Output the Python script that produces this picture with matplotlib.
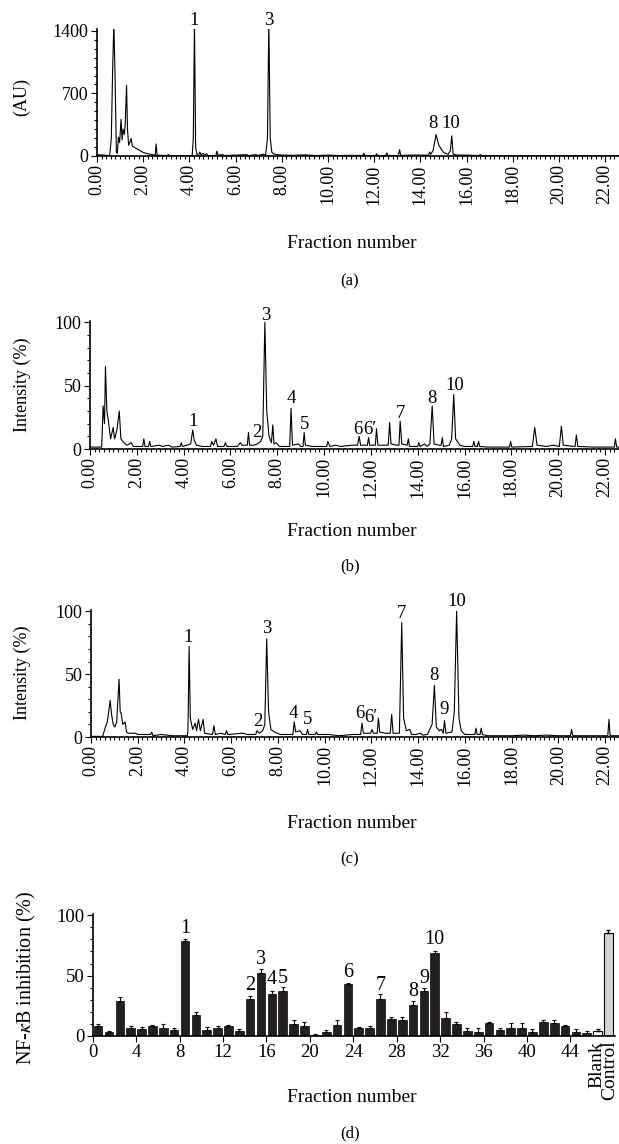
import matplotlib
matplotlib.use("Agg")
import matplotlib.pyplot as plt
from matplotlib.ticker import MultipleLocator, FormatStrFormatter

plt.rcParams['font.family'] = ['Liberation Serif', 'DejaVu Serif']
plt.rcParams['mathtext.fontset'] = 'stix'

# ---- (a) UV chromatogram, vertices (min, AU)
rt_a = [0.0, 0.3, 0.55, 0.62, 0.68, 0.73, 0.78, 0.84, 0.88, 0.93, 0.98, 1.04, 1.09, 1.13,
        1.18, 1.22, 1.28, 1.32, 1.37, 1.42, 1.48, 1.53, 1.6, 1.8, 2.0, 2.2, 2.4, 2.52,
        2.56, 2.6, 3.0, 3.1, 3.15, 4.12, 4.17, 4.22, 4.27, 4.33, 4.4, 4.45, 4.5, 4.6,
        4.65, 4.75, 4.8, 5.15, 5.19, 5.24, 5.45, 5.5, 6.5, 6.55, 6.9, 6.95, 7.2, 7.3,
        7.38, 7.44, 7.5, 7.57, 7.7, 8.0, 8.5, 9.0, 9.5, 10.0, 10.5, 11.0, 11.5, 11.55,
        11.6, 12.05, 12.1, 12.15, 12.5, 12.55, 12.6, 13.05, 13.1, 13.15, 13.5, 14.35,
        14.4, 14.45, 14.55, 14.68, 14.8, 15.0, 15.2, 15.3, 15.36, 15.42, 15.6, 16.0,
        16.5, 16.6, 16.65, 17.0, 22.7]
au_a = [15, 10, 5, 200, 1000, 1500, 900, 40, 30, 210, 150, 410, 180, 300,
        240, 350, 790, 300, 120, 150, 195, 110, 100, 70, 40, 25, 15, 10,
        135, 10, 5, 15, 5, 5, 200, 1500, 100, 15, 10, 45, 15, 30,
        10, 25, 5, 5, 55, 10, 15, 5, 15, 5, 15, 5, 20, 10,
        200, 1500, 200, 40, 20, 10, 8, 12, 5, 10, 5, 8, 5, 30,
        5, 5, 25, 5, 5, 35, 5, 5, 70, 5, 10, 10,
        45, 20, 60, 240, 120, 40, 20, 60, 225, 20, 10, 10,
        5, 15, 5, 3, 3]

# ---- (b) intensity (%)
rt_b = [0, 0.5, 0.56, 0.62, 0.66, 0.72, 0.78, 0.88, 0.99, 1.05, 1.15, 1.25, 1.32, 1.4,
        1.5, 1.6, 1.75, 1.85, 2.25, 2.3, 2.35, 2.5, 2.55, 2.6, 2.95, 3.1, 3.35, 3.5,
        3.85, 3.9, 3.95, 4.3, 4.39, 4.45, 4.55, 4.8, 5.15, 5.2, 5.28, 5.38, 5.45, 5.73,
        5.78, 5.85, 6.3, 6.42, 6.5, 6.72, 6.77, 6.82, 7.0, 7.15, 7.29, 7.38, 7.47, 7.55,
        7.65, 7.75, 7.81, 7.86, 7.95, 8.1, 8.53, 8.59, 8.65, 8.9, 9.0, 9.1, 9.15, 9.2,
        9.5, 10.11, 10.16, 10.25, 10.5, 10.7, 11.2, 11.43, 11.5, 11.56, 11.85, 11.9,
        11.95, 12.19, 12.24, 12.3, 12.6, 12.74, 12.8, 12.86, 13.1, 13.2, 13.25, 13.32,
        13.55, 13.6, 13.65, 14.0, 14.05, 14.1, 14.3, 14.4, 14.52, 14.62, 14.7, 14.9,
        15.0, 15.05, 15.1, 15.35, 15.45, 15.54, 15.62, 15.8, 16.0, 16.35, 16.4, 16.45,
        16.55, 16.6, 16.65, 17.0, 17.92, 17.97, 18.02, 18.9, 19.0, 19.1, 19.5, 19.8,
        20.05, 20.14, 20.22, 20.72, 20.78, 20.84, 21.5, 22.4, 22.45, 22.5, 22.7]
int_b = [1.5, 1.5, 34, 20, 65, 30, 23, 8, 17, 8, 15, 30, 8, 6,
         4, 3, 5, 2, 2, 8, 2, 2, 6, 2, 3, 2, 3, 1.5,
         2, 5, 2, 4, 15, 7, 3, 2, 2, 6, 3, 8, 2, 2,
         5, 2, 2, 5, 3, 3, 13, 3, 3, 4, 6, 10, 100, 30,
         10, 5, 19, 4, 5, 2, 2, 32, 3, 4, 2, 2, 13, 3,
         2, 2, 6, 2, 3, 2, 3, 3, 10, 3, 3, 9,
         3, 3, 16, 3, 3, 3, 21, 4, 3, 3, 22, 4,
         3, 8, 2, 2, 5, 2, 4, 2, 4, 34, 4, 3,
         3, 9, 2, 3, 8, 43, 8, 3, 2, 2, 6, 2,
         2, 6, 2, 1.5, 1.5, 6, 1.5, 2, 17, 3, 2, 3,
         2, 18, 3, 2, 11, 2, 1.5, 1.5, 8, 1.5, 1.5]

# ---- (c) intensity (%)
rt_c = [0, 0.5, 0.6, 0.7, 0.82, 0.88, 0.95, 1.02, 1.1, 1.2, 1.25, 1.29, 1.36, 1.46,
        1.52, 1.6, 1.9, 2.0, 2.55, 2.6, 2.65, 3.0, 3.5, 4.12, 4.15, 4.2, 4.25, 4.35,
        4.46, 4.52, 4.6, 4.68, 4.8, 4.86, 5.2, 5.26, 5.32, 5.55, 5.75, 5.8, 5.86, 6.5,
        6.7, 7.05, 7.1, 7.2, 7.35, 7.44, 7.52, 7.6, 7.7, 7.85, 8.1, 8.64, 8.7, 8.76,
        8.95, 9.05, 9.22, 9.27, 9.32, 9.6, 9.65, 9.7, 10.2, 10.6, 11.2, 11.54, 11.6,
        11.66, 11.97, 12.03, 12.09, 12.25, 12.3, 12.36, 12.6, 12.81, 12.87, 12.93,
        13.2, 13.3, 13.38, 13.5, 13.65, 13.72, 13.9, 14.1, 14.2, 14.4, 14.6, 14.7,
        14.78, 14.9, 15.0, 15.08, 15.13, 15.19, 15.45, 15.55, 15.65, 15.75, 15.85,
        16.0, 16.43, 16.48, 16.53, 16.65, 16.7, 16.75, 17.0, 18.0, 18.5, 19.0, 19.5,
        20.0, 20.52, 20.57, 20.62, 21.5, 22.12, 22.17, 22.22, 22.7]
int_c = [0.5, 0.5, 7, 12, 29, 18, 10, 8, 12, 46, 20, 19, 10, 12,
         4, 3, 3, 2, 2, 4, 1, 2, 1, 1, 5, 72, 15, 6,
         11, 5, 14, 5, 14, 3, 2, 9, 2, 3, 2, 5, 2, 3,
         2, 2, 5, 3, 5, 10, 78, 20, 6, 4, 2, 2, 12, 4,
         5, 2, 2, 6, 2, 2, 4, 2, 2, 1, 2, 2, 11,
         3, 3, 6, 3, 3, 15, 4, 3, 3, 18, 3,
         3, 91, 15, 5, 6, 2, 2, 3, 1.5, 2, 10, 41,
         8, 5, 6, 3, 13, 3, 4, 20, 100, 15, 5,
         2, 2, 7, 2, 2, 7, 2, 1, 1, 1.5, 1, 1.5,
         1, 1, 6, 1, 1, 1, 14, 1, 1]

# ---- (d) NF-kB inhibition per fraction
fractions = list(range(1, 47))
inhibition = [8, 3, 29, 7, 6, 8, 7, 5, 79, 17, 5, 7, 8, 4, 31, 52, 35, 37, 10, 8.5,
              1, 3.5, 9.5, 43, 6.5, 6.5, 31, 14, 13, 25.5, 37, 69, 14.5, 10, 4, 3.5,
              11, 5, 7, 7, 3, 11.5, 10.5, 8, 3.5, 2.5]
inhibition_err = [2, 1, 3, 1.5, 1.5, 1.5, 3, 2, 1, 2.5, 2.5, 1.5, 1.5, 2, 2.5, 3.5, 2,
                  3.5, 3, 3.5, 0.5, 1.5, 4, 0.5, 1, 2, 3.5, 1.5, 3, 3.5, 3, 1.5, 5.5,
                  1.5, 2.5, 3, 0.5, 2, 4, 4, 2.5, 2, 2.5, 1.5, 2, 1.5]
blank, blank_err = 4.5, 1
control, control_err = 85, 2.5

# peak labels: (text, x, y)
labels_a = [('1', 4.22, 1520), ('3', 7.44, 1520), ('8', 14.55, 360), ('10', 15.33, 360)]
labels_b = [('1', 4.39, 22), ('2', 7.12, 13), ('3', 7.5, 105), ('4', 8.6, 40), ('5', 9.17, 19.5),
            ('6', 11.45, 15.5), ('6\u2032', 11.97, 15.5), ('7', 13.25, 28), ('8', 14.62, 40),
            ('10', 15.57, 50.5)]
labels_c = [('1', 4.17, 79), ('2', 7.13, 12.5), ('3', 7.51, 86), ('4', 8.66, 19), ('5', 9.27, 14),
            ('6', 11.5, 18.5), ('6\u2032', 11.97, 15.5), ('7', 13.3, 98), ('8', 14.7, 49),
            ('9', 15.13, 21.5), ('10', 15.65, 108)]
labels_d = [('1', 9, 89), ('2', 15, 42), ('3', 16, 63), ('4', 17, 47), ('5', 18, 48),
            ('6', 24, 52.5), ('7', 27, 42), ('8', 30, 37), ('9', 31, 48), ('10', 32, 80)]

W, H = 619, 1144
fig = plt.figure(figsize=(W / 100, H / 100), dpi=100)


def box(l, t, r, b):
    return [l / W, 1 - b / H, (r - l) / W, (b - t) / H]


def style(ax, size=13):
    for s in ['top', 'right']:
        ax.spines[s].set_visible(False)
    for s in ['left', 'bottom']:
        ax.spines[s].set_linewidth(1.2)
    ax.tick_params(which='both', direction='out', width=0.8, labelsize=size, pad=2)
    ax.tick_params(which='major', length=4)
    ax.tick_params(which='minor', length=2)


def chrom(ax, x, y, ymax, ymaj, ymin):
    ax.plot(x, y, color='black', lw=0.8)
    ax.set_xlim(0, 22.6)
    ax.set_ylim(0, ymax)
    ax.xaxis.set_major_locator(MultipleLocator(2))
    ax.xaxis.set_minor_locator(MultipleLocator(0.2))
    ax.xaxis.set_major_formatter(FormatStrFormatter('%.2f'))
    ax.yaxis.set_major_locator(MultipleLocator(ymaj))
    ax.yaxis.set_minor_locator(MultipleLocator(ymin))
    style(ax)
    plt.setp(ax.get_xticklabels(), rotation=90)


ax_a = fig.add_axes(box(97, 29, 619, 156))
chrom(ax_a, rt_a, au_a, 1420, 700, 100)
ax_b = fig.add_axes(box(90, 321, 619, 449))
chrom(ax_b, rt_b, int_b, 101, 50, 10)
ax_c = fig.add_axes(box(91, 610, 619, 737))
chrom(ax_c, rt_c, int_c, 101, 50, 10)

for ax, labs in [(ax_a, labels_a), (ax_b, labels_b), (ax_c, labels_c)]:
    for t, x, y in labs:
        ax.text(x, y, t, ha='center', va='center', fontsize=13.5, clip_on=False)

# ---- bar chart
ax_d = fig.add_axes(box(92.7, 914, 615, 1036))
xs = [f - 0.5 for f in fractions]
ax_d.bar(xs, inhibition, width=0.8, color='#231f20', edgecolor='#231f20', lw=0.6,
         yerr=[[0] * len(inhibition), inhibition_err],
         error_kw=dict(ecolor='black', elinewidth=0.8, capsize=1.5, capthick=0.8))
ax_d.bar([46.5], [blank], width=0.8, color='white', edgecolor='black', lw=0.8,
         yerr=[[0], [blank_err]], error_kw=dict(ecolor='black', elinewidth=0.8, capsize=1.5))
ax_d.bar([47.5], [control], width=0.8, color='#d4d4d4', edgecolor='black', lw=0.8,
         yerr=[[0], [control_err]], error_kw=dict(ecolor='black', elinewidth=0.8, capsize=1.5))
ax_d.set_xlim(0, 48.1)
ax_d.set_ylim(0, 101)
ax_d.set_xticks(range(0, 45, 4))
ax_d.yaxis.set_major_locator(MultipleLocator(50))
ax_d.yaxis.set_minor_locator(MultipleLocator(10))
style(ax_d, 13.5)
for t, x, y in labels_d:
    ax_d.text(x - 0.5, y, t, ha='center', va='center', fontsize=14.5)
# two stacked rotated labels under the last two bars
ax_d.text(47.05, -4, 'Blank\nControl', rotation=90, ha='center', va='top',
          multialignment='right', linespacing=0.68, fontsize=14)

# axis titles and panel letters
fig.text(22 / W, 1 - 97 / H, '(AU)', rotation=90, ha='center', va='center', fontsize=13)
fig.text(22 / W, 1 - 385 / H, 'Intensity (%)', rotation=90, ha='center', va='center', fontsize=13)
fig.text(22 / W, 1 - 673 / H, 'Intensity (%)', rotation=90, ha='center', va='center', fontsize=13)
fig.text(26 / W, 1 - 978 / H, r'NF-$\kappa$B inhibition (%)', rotation=90, ha='center', va='center',
         fontsize=14.5)
for y in [243, 531, 823, 1097]:
    fig.text(352 / W, 1 - y / H, 'Fraction number', ha='center', va='center', fontsize=14)
for y, lab in [(281, '(a)'), (566, '(b)'), (859, '(c)'), (1133, '(d)')]:
    fig.text(350 / W, 1 - y / H, lab, ha='center', va='center', fontsize=12)

fig.savefig('out.png', dpi=100)
